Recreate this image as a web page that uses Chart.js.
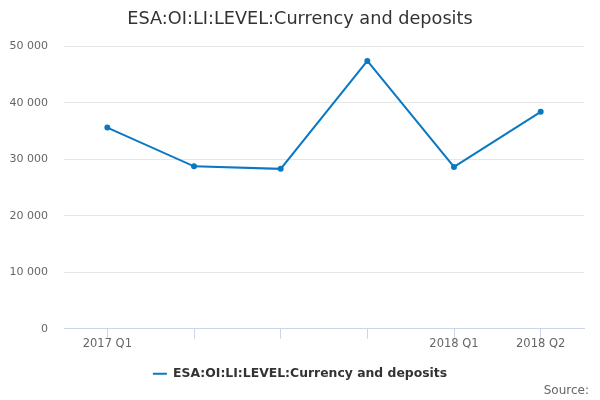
<!DOCTYPE html>
<html>
<head>
<meta charset="utf-8">
<script src="https://cdn.jsdelivr.net/npm/chart.js@4/dist/chart.umd.min.js"></script>
<style>
  html, body { margin: 0; padding: 0; background: #fff; }
  #wrap { position: relative; width: 600px; height: 400px; }
  #source {
    position: absolute; right: 11px; bottom: 3px;
    font: 12px "DejaVu Sans", sans-serif; color: #666;
  }
</style>
</head>
<body>
<div id="wrap">
  <canvas id="myChart" width="600" height="400"></canvas>
  <div id="source">Source:</div>
</div>
<script>
/*Data*/

const categories = ['2017 Q1', '', '', '', '2018 Q1', '2018 Q2'];
const seriesName = 'ESA:OI:LI:LEVEL:Currency and deposits';
const seriesValues = [35600, 28750, 28300, 47400, 28650, 38400];
const yTicks = [0, 10000, 20000, 30000, 40000, 50000];

/*Chart*/

function fmt(v) {
    return String(v).replace(/\B(?=(\d{3})+(?!\d))/g, ' ');
}

function initChart() {
    const ctx = document.getElementById('myChart').getContext('2d');
    Chart.defaults.font.family = '"DejaVu Sans", sans-serif';

    const myChart = new Chart(ctx, {
        type: 'line',
        data: {
            labels: categories,
            datasets: [{
                label: seriesName,
                data: seriesValues,
                borderColor: '#0a78c2',
                backgroundColor: '#0a78c2',
                borderWidth: 2,
                pointRadius: 2,
                pointHoverRadius: 2,
                tension: 0,
            }]
        },
        options: {
            responsive: false,
            animation: false,
            layout: { padding: { left: 8, right: 8, top: 0, bottom: 10 } },
            plugins: {
                title: {
                    display: true,
                    text: seriesName,
                    color: '#333',
                    font: { size: 17.7, weight: 'normal' },
                    padding: { top: 9, bottom: 16 },
                },
                legend: {
                    position: 'bottom',
                    labels: {
                        usePointStyle: true,
                        pointStyle: 'line',
                        pointStyleWidth: 14,
                        boxWidth: 14,
                        color: '#333',
                        font: { size: 12.4, weight: 'bold' },
                        padding: 19,
                    },
                },
                tooltip: { enabled: false },
            },
            scales: {
                x: {
                    offset: true,
                    border: { color: '#ccd6eb' },
                    grid: {
                        offset: false,
                        drawOnChartArea: false,
                        color: '#ccd6eb',
                        tickLength: 10,
                    },
                    ticks: {
                        color: '#666',
                        font: { size: 11.5 },
                        maxRotation: 0,
                        autoSkip: false,
                        padding: -2,
                    },
                },
                y: {
                    min: 0,
                    max: 50000,
                    border: { display: false },
                    grid: { color: '#e6e6e6', drawTicks: false },
                    afterBuildTicks: (axis) => {
                        axis.ticks = yTicks.map(v => ({ value: v }));
                    },
                    afterFit: (axis) => {
                        axis.width = 56;
                    },
                    ticks: {
                        color: '#666',
                        font: { size: 11 },
                        padding: 16,
                        callback: (v) => fmt(v),
                    },
                },
                // empty spacer on the right so the plot ends at 584
                yRight: {
                    position: 'right',
                    border: { display: false },
                    grid: { display: false },
                    ticks: { display: false },
                    afterFit: (axis) => {
                        axis.width = 8;
                    },
                },
            },
        },
    });
}

initChart();
</script>
</body>
</html>
